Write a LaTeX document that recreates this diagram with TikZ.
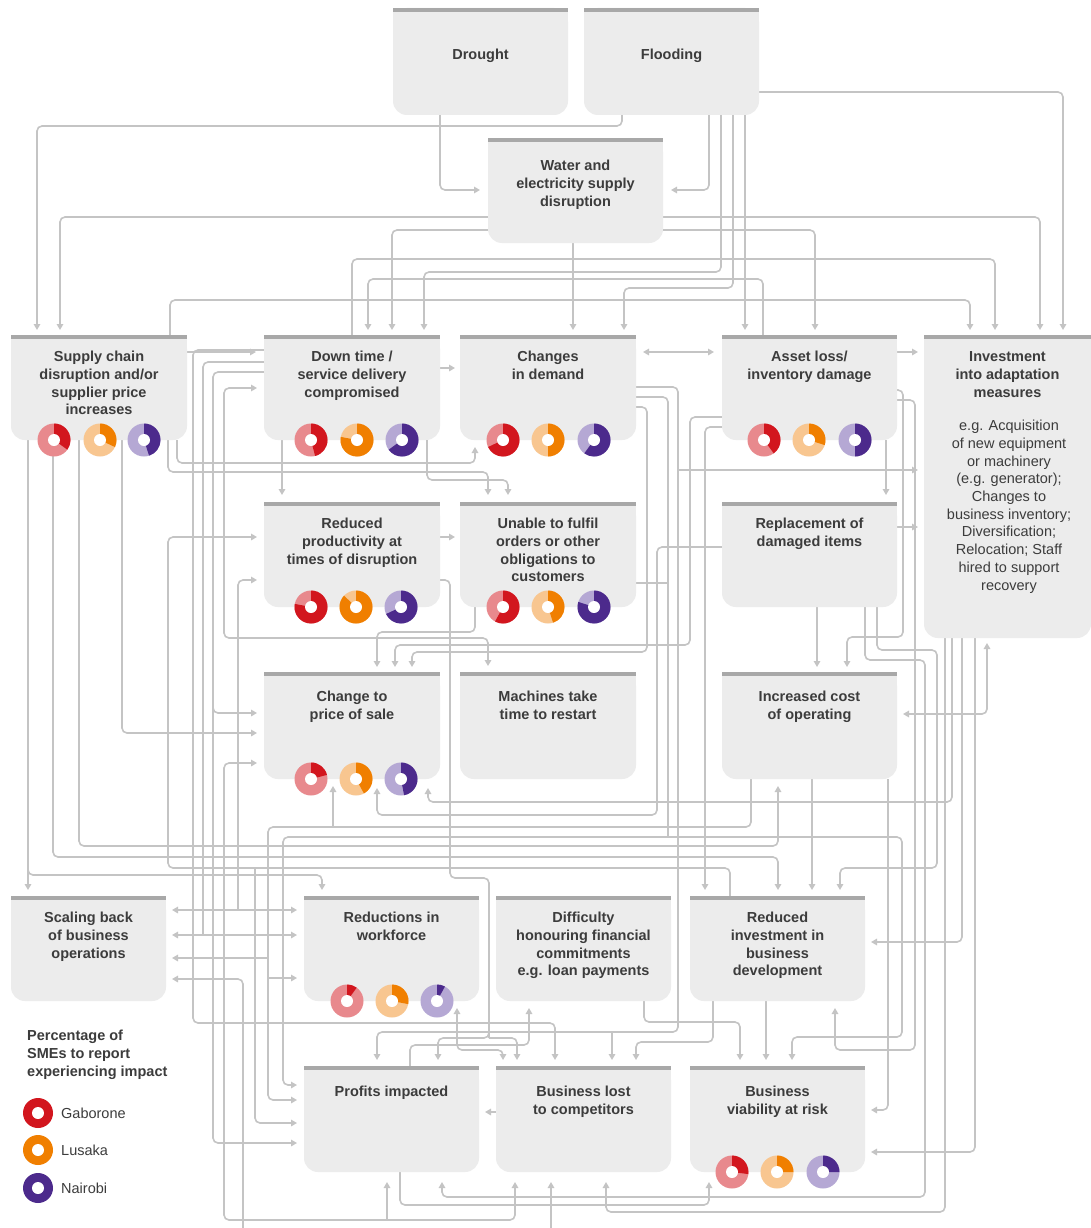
\documentclass[tikz,border=0pt]{standalone}
\usepackage{fontspec}
\setmainfont{Liberation Sans}
\usetikzlibrary{arrows.meta}
\definecolor{boxfill}{HTML}{ECECEC}
\definecolor{boxbar}{HTML}{A8A8A8}
\definecolor{lin}{HTML}{C4C4C4}
\definecolor{txt}{HTML}{3C3C3C}
\definecolor{gD}{HTML}{D2161E}\definecolor{gL}{HTML}{E8898D}
\definecolor{lD}{HTML}{F07F00}\definecolor{lL}{HTML}{F8C690}
\definecolor{nD}{HTML}{4C2A8C}\definecolor{nL}{HTML}{B5A8D4}
\tikzset{
 conn/.style={draw=lin, line width=1.6pt, rounded corners=5pt},
 arr/.style={conn, -{Triangle[length=6pt,width=6.5pt]}},
 arrb/.style={conn, {Triangle[length=6pt,width=6.5pt]}-{Triangle[length=6pt,width=6.5pt]}},
 lbl/.style={text=txt, font=\fontsize{14.5}{17.7}\selectfont\bfseries, align=center, inner sep=0pt, anchor=north},
 desc/.style={text=txt, font=\fontsize{14.5}{17.7}\selectfont, align=center, inner sep=0pt, anchor=north},
}
\newcommand\mybox[7]{%
 \node[inner sep=0pt, minimum width={(#4-#2)*1pt}, minimum height={(#5-#3)*1pt}] (#1) at ({(#2+#4)/2},{(#3+#5)/2}) {};
 \fill[boxfill, rounded corners=14pt] (#2,#3) rectangle (#4,#5);
 \fill[boxfill] (#2,#3) rectangle (#4,{(#3+#5)/2});
 \fill[boxbar] (#2,#3) rectangle (#4,#3+4);
 \node[lbl] (#1-t) at ({(#2+#4)/2},#6-7) {\rule{0pt}{11.5pt}#7};
}
\newcommand\mydonut[5]{%
 \fill[#5] (#1,#2) circle[radius=16.5];
 \fill[#4] (#1,#2) -- ++(-90:16.5) arc[start angle=-90, end angle={-90+360*#3}, radius=16.5] -- cycle;
 \fill[white] (#1,#2) circle[radius=6];
}
\begin{document}
\begin{tikzpicture}[x=1pt,y=-1pt]
\fill[white] (0,0) rectangle (1091,1228);
\useasboundingbox (0,0) rectangle (1091,1228);
% ---------- connectors: top ----------
\draw[arr] (622,110) -- (622,126) -- (37,126) -- (37,330);
\draw[arr] (440,110) -- (440,190) -- (480,190);
\draw[arr] (709,110) -- (709,190) -- (671,190);
\draw[arr] (750,92) -- (1063,92) -- (1063,330);
\draw[arr] (495,217) -- (60,217) -- (60,330);
\draw[arr] (495,230) -- (392,230) -- (392,330);
\draw[arr] (573,240) -- (573,330);
\draw[arr] (655,230) -- (815,230) -- (815,330);
\draw[arr] (655,217) -- (1040,217) -- (1040,330);
\draw[arr] (745,110) -- (745,330);
\draw[arr] (721,110) -- (721,272) -- (424,272) -- (424,330);
\draw[arr] (733,110) -- (733,288) -- (624,288) -- (624,330);
\draw[arr] (352,340) -- (352,259) -- (995,259) -- (995,330);
\draw[arr] (170,340) -- (170,300) -- (970,300) -- (970,330);
\draw[arr] (763,340) -- (763,279) -- (368,279) -- (368,330);
% ---------- row 1 ----------
\draw[arr] (187,352) -- (256,352);
\draw[arr] (430,368) -- (455,368);
\draw[arrb] (643,352) -- (714,352);
\draw[arr] (890,352) -- (918,352);
% ---------- from supply chain ----------
\draw[arr] (28,440) -- (28,890);
\draw[arr] (28,860) -- (28,875) -- (322,875) -- (322,890);
\draw[arr] (53,440) -- (53,857) -- (778,857) -- (778,890);
\draw[arr] (79,440) -- (79,846) -- (778,846) -- (778,786);
\draw[arr] (122,440) -- (122,733) -- (257,733);
\draw[arr] (168,440) -- (168,472) -- (488,472) -- (488,495);
\draw[arr] (177,440) -- (177,463) -- (475,463) -- (475,447);
\draw[arr] (427,440) -- (427,480) -- (508,480) -- (508,495);
\draw[arr] (282,440) -- (282,495);
% ---------- left verticals ----------
\draw[arr] (270,350) -- (193,350) -- (193,1023) -- (555,1023) -- (555,1060);
\draw[arrb] (172,935) -- (297,935);
\draw[conn] (270,362) -- (203,362) -- (203,935);
\draw[arr] (270,372) -- (213,372) -- (213,1143) -- (297,1143);
\draw[arr] (213,700) -- (213,713) -- (257,713);
\draw[arrb] (257,388) -- (224,388) -- (224,638) -- (488,638) -- (488,666);
\draw[arrb] (172,910) -- (297,910);
\draw[arr] (238,910) -- (238,580) -- (257,580);
\draw[arr] (730,896) -- (730,868) -- (168,868) -- (168,537) -- (257,537);
\draw[arr] (255,868) -- (255,1123) -- (297,1123);
\draw[arr] (440,537) -- (455,537);
\draw[conn] (430,580) -- (450,580) -- (450,878) -- (489,878) -- (489,1038);
\draw[arr] (489,1000) -- (489,1038) -- (438,1038) -- (438,1060);
\draw[arr] (489,1038) -- (517,1038) -- (517,1060);
\draw[arrb] (257,763) -- (224,763) -- (224,1220) -- (515,1220) -- (515,1182);
\draw[arr] (387,1220) -- (387,1182);
\draw[arr] (243,1228) -- (243,979) -- (172,979);
\draw[arr] (268,958) -- (172,958);
\draw[arr] (268,978) -- (297,978);
\draw[arr] (751,779) -- (751,827) -- (268,827) -- (268,1100) -- (297,1100);
\draw[arr] (333,827) -- (333,786);
\draw[arrb] (792,1060) -- (792,1037) -- (902,1037) -- (902,837) -- (283,837) -- (283,1085) -- (297,1085);
% ---------- middle / right ----------
\draw[arr] (630,387) -- (678,387) -- (678,1032) -- (377,1032) -- (377,1060);
\draw[arr] (678,470) -- (918,470);
\draw[arr] (612,1032) -- (612,1060);
\draw[conn] (630,397) -- (668,397) -- (668,837);
\draw[conn] (630,583) -- (668,583);
\draw[arr] (630,407) -- (647,407) -- (647,652) -- (412,652) -- (412,667);
\draw[arr] (475,600) -- (475,632) -- (377,632) -- (377,667);
\draw[arr] (730,417) -- (690,417) -- (690,645) -- (395,645) -- (395,667);
\draw[arr] (730,427) -- (705,427) -- (705,890);
\draw[arr] (886,440) -- (886,495);
\draw[arr] (890,390) -- (903,390) -- (903,637) -- (847,637) -- (847,667);
\draw[arr] (890,400) -- (915,400) -- (915,1050) -- (835,1050) -- (835,1008);
\draw[arr] (890,527) -- (918,527);
\draw[arr] (730,547) -- (657,547) -- (657,815) -- (377,815) -- (377,788);
\draw[arr] (817,607) -- (817,667);
\draw[arr] (877,600) -- (877,650) -- (937,650) -- (937,868) -- (840,868) -- (840,890);
\draw[arr] (865,600) -- (865,660) -- (925,660) -- (925,1197) -- (442,1197) -- (442,1182);
\draw[arrb] (987,643) -- (987,714) -- (903,714);
\draw[arr] (952,630) -- (952,802) -- (428,802) -- (428,788);
\draw[arr] (962,630) -- (962,942) -- (871,942);
\draw[arr] (975,630) -- (975,1152) -- (871,1152);
\draw[arr] (888,779) -- (888,1110) -- (871,1110);
\draw[arr] (812,779) -- (812,890);
\draw[arr] (945,630) -- (945,1212) -- (606,1212) -- (606,1182);
\draw[arr] (400,1172) -- (400,1205) -- (709,1205) -- (709,1182);
\draw[arr] (551,1228) -- (551,1182);
% ---------- bottom rows ----------
\draw[arr] (410,1070) -- (410,1045) -- (529,1045) -- (529,1008);
\draw[arrb] (457,1008) -- (457,1050) -- (503,1050) -- (503,1060);
\draw[arr] (644,995) -- (644,1022) -- (740,1022) -- (740,1060);
\draw[arr] (713,995) -- (713,1042) -- (636,1042) -- (636,1060);
\draw[arr] (766,995) -- (766,1060);
\draw[arr] (496,1112) -- (485,1112);
% ---------- boxes ----------
\mybox{drought}{393}{8}{568}{115}{55}{Drought}
\mybox{flood}{584}{8}{759}{115}{55}{Flooding}
\mybox{water}{488}{138}{663}{243}{166}{Water and\\electricity supply\\disruption}
\mybox{supply}{11}{335}{187}{440}{357}{Supply chain\\disruption and/or\\supplier price\\increases}
\mybox{down}{264}{335}{440}{440}{357}{Down time /\\service delivery\\compromised}
\mybox{demand}{460}{335}{636}{440}{357}{Changes\\in demand}
\mybox{asset}{722}{335}{897}{440}{357}{Asset loss/\\inventory damage}
\mybox{invest}{924}{335}{1091}{638}{357}{Investment\\into adaptation\\measures}
\node[desc] (invest-d) at (1009,419) {\rule{0pt}{11.5pt}e.g. Acquisition\\of new equipment\\or machinery\\(e.g. generator);\\Changes to\\business inventory;\\Diversification;\\Relocation; Staff\\hired to support\\recovery};
\mybox{prod}{264}{502}{440}{607}{524}{Reduced\\productivity at\\times of disruption}
\mybox{unable}{460}{502}{636}{607}{524}{Unable to fulfil\\orders or other\\obligations to\\customers}
\mybox{replace}{722}{502}{897}{607}{524}{Replacement of\\damaged items}
\mybox{price}{264}{672}{440}{779}{697}{Change to\\price of sale}
\mybox{machine}{460}{672}{636}{779}{697}{Machines take\\time to restart}
\mybox{cost}{722}{672}{897}{779}{697}{Increased cost\\of operating}
\mybox{scale}{11}{896}{166}{1001}{918}{Scaling back\\of business\\operations}
\mybox{work}{304}{896}{479}{1001}{918}{Reductions in\\workforce}
\mybox{debt}{496}{896}{671}{1001}{918}{Difficulty\\honouring financial\\commitments\\e.g. loan payments}
\mybox{rinv}{690}{896}{865}{1001}{918}{Reduced\\investment in\\business\\development}
\mybox{profit}{304}{1066}{479}{1172}{1092}{Profits impacted}
\mybox{lost}{496}{1066}{671}{1172}{1092}{Business lost\\to competitors}
\mybox{viab}{690}{1066}{865}{1172}{1092}{Business\\viability at risk}
% ---------- donuts ----------
\mydonut{54}{440}{0.35}{gD}{gL}\mydonut{100}{440}{0.32}{lD}{lL}\mydonut{144}{440}{0.45}{nD}{nL}
\mydonut{311}{440}{0.46}{gD}{gL}\mydonut{357}{440}{0.78}{lD}{lL}\mydonut{402}{440}{0.65}{nD}{nL}
\mydonut{503}{440}{0.68}{gD}{gL}\mydonut{548}{440}{0.50}{lD}{lL}\mydonut{594}{440}{0.60}{nD}{nL}
\mydonut{764}{440}{0.40}{gD}{gL}\mydonut{809}{440}{0.30}{lD}{lL}\mydonut{855}{440}{0.50}{nD}{nL}
\mydonut{311}{607}{0.78}{gD}{gL}\mydonut{356}{607}{0.87}{lD}{lL}\mydonut{401}{607}{0.68}{nD}{nL}
\mydonut{503}{607}{0.58}{gD}{gL}\mydonut{548}{607}{0.45}{lD}{lL}\mydonut{594}{607}{0.80}{nD}{nL}
\mydonut{311}{779}{0.21}{gD}{gL}\mydonut{356}{779}{0.42}{lD}{lL}\mydonut{401}{779}{0.47}{nD}{nL}
\mydonut{347}{1001}{0.10}{gD}{gL}\mydonut{392}{1001}{0.28}{lD}{lL}\mydonut{437}{1001}{0.08}{nD}{nL}
\mydonut{732}{1172}{0.27}{gD}{gL}\mydonut{777}{1172}{0.25}{lD}{lL}\mydonut{823}{1172}{0.25}{nD}{nL}
% ---------- legend ----------
\node[text=txt, font=\fontsize{14.5}{17.7}\selectfont\bfseries, align=left, inner sep=0pt, anchor=north west] (legtitle) at (27,1029) {\rule{0pt}{11.5pt}Percentage of\\SMEs to report\\experiencing impact};
\fill[gD] (38,1113) circle[radius=15]; \fill[white] (38,1113) circle[radius=6];
\fill[lD] (38,1150) circle[radius=15]; \fill[white] (38,1150) circle[radius=6];
\fill[nD] (38,1188) circle[radius=15]; \fill[white] (38,1188) circle[radius=6];
\node[text=txt, font=\fontsize{14.5}{17.7}\selectfont, inner sep=0pt, anchor=west] (lg) at (61,1113) {Gaborone};
\node[text=txt, font=\fontsize{14.5}{17.7}\selectfont, inner sep=0pt, anchor=west] (ll) at (61,1150) {Lusaka};
\node[text=txt, font=\fontsize{14.5}{17.7}\selectfont, inner sep=0pt, anchor=west] (ln) at (61,1188) {Nairobi};
\end{tikzpicture}
\end{document}
